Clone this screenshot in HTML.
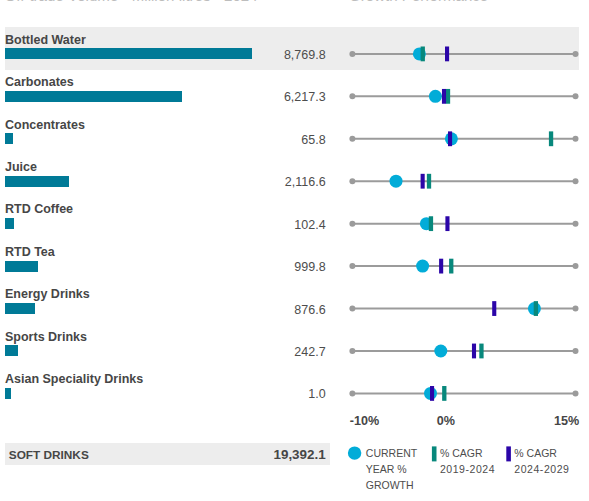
<!DOCTYPE html>
<html><head><meta charset="utf-8"><style>
html,body{margin:0;padding:0;background:#fff;width:589px;height:501px;overflow:hidden;position:relative}
body{font-family:"Liberation Sans",sans-serif}
div{position:absolute;white-space:nowrap}
.band{background:#ededed}
.lab{left:5px;font-size:12.5px;font-weight:bold;color:#464646;line-height:14px}
.bar{left:5px;height:11px;background:#007a97}
.val{right:263.4px;font-size:12.5px;color:#4d4d4d;line-height:14px}
.hdr{font-size:15.1px;color:#bdbdbd;line-height:16px}
.ax{font-size:12.6px;font-weight:bold;color:#464646;line-height:14px}
.leg{font-size:10.5px;color:#4d4d4d;line-height:15.8px}
svg{position:absolute;left:0;top:0}
</style></head><body>
<div class="hdr" style="left:4.5px;top:-12.0px">Off-trade Volume - Million litres - 2024</div>
<div class="hdr" style="left:349px;top:-12.0px">Growth Performance</div>
<div class="band" style="left:5px;top:27px;width:574px;height:43px"></div><div class="lab" style="top:32.70px">Bottled Water</div><div class="bar" style="top:48.40px;width:246.70px"></div><div class="val" style="top:47.90px">8,769.8</div><div class="lab" style="top:75.14px">Carbonates</div><div class="bar" style="top:90.84px;width:176.61px"></div><div class="val" style="top:90.34px">6,217.3</div><div class="lab" style="top:117.58px">Concentrates</div><div class="bar" style="top:133.28px;width:7.71px"></div><div class="val" style="top:132.78px">65.8</div><div class="lab" style="top:160.02px">Juice</div><div class="bar" style="top:175.72px;width:64.02px"></div><div class="val" style="top:175.22px">2,116.6</div><div class="lab" style="top:202.46px">RTD Coffee</div><div class="bar" style="top:218.16px;width:8.71px"></div><div class="val" style="top:217.66px">102.4</div><div class="lab" style="top:244.90px">RTD Tea</div><div class="bar" style="top:260.60px;width:33.35px"></div><div class="val" style="top:260.10px">999.8</div><div class="lab" style="top:287.34px">Energy Drinks</div><div class="bar" style="top:303.04px;width:29.97px"></div><div class="val" style="top:302.54px">876.6</div><div class="lab" style="top:329.78px">Sports Drinks</div><div class="bar" style="top:345.48px;width:12.56px"></div><div class="val" style="top:344.98px">242.7</div><div class="lab" style="top:372.22px">Asian Speciality Drinks</div><div class="bar" style="top:387.92px;width:5.93px"></div><div class="val" style="top:387.42px">1.0</div>
<div class="band" style="left:5px;top:443.2px;width:325px;height:21.4px"></div>
<div class="lab" style="left:8.8px;top:448px;font-size:11.8px">SOFT DRINKS</div>
<div class="val" style="top:447.7px;font-size:13.4px;font-weight:bold;color:#464646">19,392.1</div>
<div class="ax" style="left:349.7px;top:414.3px">-10%</div>
<div class="ax" style="left:436.8px;top:414.3px">0%</div>
<div class="ax" style="left:553.9px;top:414.3px">15%</div>
<div class="leg" style="left:365.8px;top:446px">CURRENT<br>YEAR %<br>GROWTH</div>
<div class="leg" style="left:439.9px;top:446px">% CAGR<br><span style="letter-spacing:0.55px">2019-2024</span></div>
<div class="leg" style="left:514.3px;top:446px">% CAGR<br><span style="letter-spacing:0.55px">2024-2029</span></div>
<svg width="589" height="501" xmlns="http://www.w3.org/2000/svg">
<line x1="352.4" y1="53.90" x2="575.5" y2="53.90" stroke="#9b9b9b" stroke-width="2"/><circle cx="352.4" cy="53.90" r="3" fill="#9b9b9b"/><circle cx="575.5" cy="53.90" r="3" fill="#9b9b9b"/><circle cx="419.4" cy="53.90" r="6.5" fill="#02acd8"/><rect x="420.60" y="46.50" width="4.3" height="14.8" fill="#08887c"/><rect x="445.00" y="46.50" width="4.1" height="14.8" fill="#2b05a8"/><line x1="352.4" y1="96.34" x2="575.5" y2="96.34" stroke="#9b9b9b" stroke-width="2"/><circle cx="352.4" cy="96.34" r="3" fill="#9b9b9b"/><circle cx="575.5" cy="96.34" r="3" fill="#9b9b9b"/><circle cx="435.4" cy="96.34" r="6.5" fill="#02acd8"/><rect x="445.85" y="88.94" width="4.3" height="14.8" fill="#08887c"/><rect x="441.95" y="88.94" width="4.1" height="14.8" fill="#2b05a8"/><line x1="352.4" y1="138.78" x2="575.5" y2="138.78" stroke="#9b9b9b" stroke-width="2"/><circle cx="352.4" cy="138.78" r="3" fill="#9b9b9b"/><circle cx="575.5" cy="138.78" r="3" fill="#9b9b9b"/><circle cx="451.4" cy="138.78" r="6.5" fill="#02acd8"/><rect x="548.90" y="131.38" width="4.3" height="14.8" fill="#08887c"/><rect x="448.00" y="131.38" width="4.1" height="14.8" fill="#2b05a8"/><line x1="352.4" y1="181.22" x2="575.5" y2="181.22" stroke="#9b9b9b" stroke-width="2"/><circle cx="352.4" cy="181.22" r="3" fill="#9b9b9b"/><circle cx="575.5" cy="181.22" r="3" fill="#9b9b9b"/><circle cx="396.0" cy="181.22" r="6.5" fill="#02acd8"/><rect x="426.85" y="173.82" width="4.3" height="14.8" fill="#08887c"/><rect x="420.60" y="173.82" width="4.1" height="14.8" fill="#2b05a8"/><line x1="352.4" y1="223.66" x2="575.5" y2="223.66" stroke="#9b9b9b" stroke-width="2"/><circle cx="352.4" cy="223.66" r="3" fill="#9b9b9b"/><circle cx="575.5" cy="223.66" r="3" fill="#9b9b9b"/><circle cx="426.4" cy="223.66" r="6.5" fill="#02acd8"/><rect x="428.80" y="216.26" width="4.3" height="14.8" fill="#08887c"/><rect x="445.40" y="216.26" width="4.1" height="14.8" fill="#2b05a8"/><line x1="352.4" y1="266.10" x2="575.5" y2="266.10" stroke="#9b9b9b" stroke-width="2"/><circle cx="352.4" cy="266.10" r="3" fill="#9b9b9b"/><circle cx="575.5" cy="266.10" r="3" fill="#9b9b9b"/><circle cx="422.6" cy="266.10" r="6.5" fill="#02acd8"/><rect x="449.10" y="258.70" width="4.3" height="14.8" fill="#08887c"/><rect x="439.10" y="258.70" width="4.1" height="14.8" fill="#2b05a8"/><line x1="352.4" y1="308.54" x2="575.5" y2="308.54" stroke="#9b9b9b" stroke-width="2"/><circle cx="352.4" cy="308.54" r="3" fill="#9b9b9b"/><circle cx="575.5" cy="308.54" r="3" fill="#9b9b9b"/><circle cx="534.4" cy="308.54" r="6.5" fill="#02acd8"/><rect x="533.70" y="301.14" width="4.3" height="14.8" fill="#08887c"/><rect x="492.20" y="301.14" width="4.1" height="14.8" fill="#2b05a8"/><line x1="352.4" y1="350.98" x2="575.5" y2="350.98" stroke="#9b9b9b" stroke-width="2"/><circle cx="352.4" cy="350.98" r="3" fill="#9b9b9b"/><circle cx="575.5" cy="350.98" r="3" fill="#9b9b9b"/><circle cx="440.8" cy="350.98" r="6.5" fill="#02acd8"/><rect x="479.30" y="343.58" width="4.3" height="14.8" fill="#08887c"/><rect x="471.95" y="343.58" width="4.1" height="14.8" fill="#2b05a8"/><line x1="352.4" y1="393.42" x2="575.5" y2="393.42" stroke="#9b9b9b" stroke-width="2"/><circle cx="352.4" cy="393.42" r="3" fill="#9b9b9b"/><circle cx="575.5" cy="393.42" r="3" fill="#9b9b9b"/><circle cx="430.5" cy="393.42" r="6.5" fill="#02acd8"/><rect x="442.15" y="386.02" width="4.3" height="14.8" fill="#08887c"/><rect x="430.00" y="386.02" width="4.1" height="14.8" fill="#2b05a8"/><circle cx="354.6" cy="453.1" r="6.7" fill="#02acd8"/><rect x="431.9" y="446.4" width="4.6" height="15" fill="#08887c"/><rect x="506.3" y="446.4" width="4.6" height="15" fill="#2b05a8"/>
</svg>
</body></html>
